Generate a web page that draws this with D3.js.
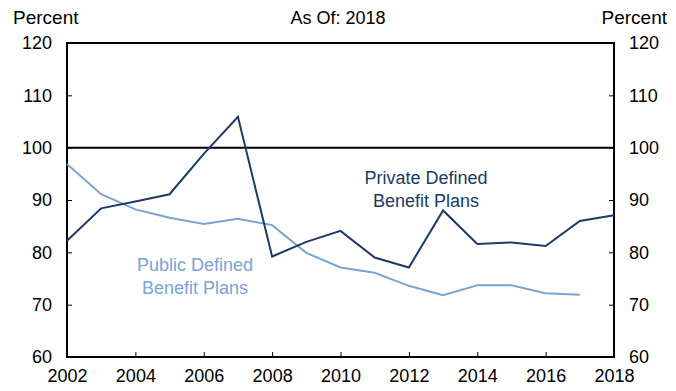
<!DOCTYPE html>
<html>
<head>
<meta charset="utf-8">
<script src="https://cdn.jsdelivr.net/npm/d3@7"></script>
<style>
  body { margin: 0; background: #fff; }
  svg text { font-family: "Liberation Sans", Arial, sans-serif; fill: #000; }
</style>
</head>
<body>
<div id="chart"></div>
<script>
// data
let years = [2002, 2003, 2004, 2005, 2006, 2007, 2008, 2009, 2010, 2011, 2012, 2013, 2014, 2015, 2016, 2017, 2018];
let privatePlans = [82.2, 88.4, 89.7, 91.1, 98.8, 105.9, 79.2, 82.0, 84.1, 79.0, 77.1, 88.0, 81.6, 81.9, 81.2, 86.0, 87.1];
let publicPlans = [96.9, 91.1, 88.2, 86.6, 85.4, 86.4, 85.2, 79.9, 77.1, 76.1, 73.6, 71.8, 73.7, 73.7, 72.2, 71.9];
let yTicks = [60, 70, 80, 90, 100, 110, 120];
let xTicks = [2002, 2004, 2006, 2008, 2010, 2012, 2014, 2016, 2018];

let margin = {top: 43, right: 62, bottom: 34, left: 67};
let W = 676, H = 391;
let width = W - margin.left - margin.right;
let height = H - margin.top - margin.bottom;
let fs = "18px";

let svg = d3.select("#chart")
    .append("svg")
    .attr("width", W)
    .attr("height", H);

let g = svg.append("g")
    .attr("transform", "translate(" + margin.left + "," + margin.top + ")");

let x = d3.scaleLinear().domain([2002, 2018]).range([0, width]);
let y = d3.scaleLinear().domain([60, 120]).range([height, 0]);

// axes, ticks pointing into the plot
let tickLen = 5;
let leftAxis = g.append("g").call(d3.axisLeft(y).tickValues(yTicks).tickSize(-tickLen).tickPadding(15));
let rightAxis = g.append("g").attr("transform", "translate(" + width + ",0)")
    .call(d3.axisRight(y).tickValues(yTicks).tickSize(-tickLen).tickPadding(15));
let bottomAxis = g.append("g").attr("transform", "translate(0," + height + ")")
    .call(d3.axisBottom(x).tickValues(xTicks).tickFormat(d3.format("d")).tickSize(-tickLen).tickPadding(12));

[leftAxis, rightAxis, bottomAxis].forEach(function (a) {
    a.select(".domain").remove();
    a.selectAll("line").attr("stroke", "#000").attr("stroke-width", 1);
    a.selectAll("text").style("font-size", fs);
});

// frame
g.append("rect")
    .attr("x", 0).attr("y", 0)
    .attr("width", width).attr("height", height)
    .attr("fill", "none")
    .attr("stroke", "#000")
    .attr("stroke-width", 2);

// 100 reference line
g.append("line")
    .attr("x1", 0).attr("x2", width)
    .attr("y1", y(100)).attr("y2", y(100))
    .attr("stroke", "#000")
    .attr("stroke-width", 2);

let line = d3.line()
    .x(function (d, i) { return x(years[i]); })
    .y(function (d) { return y(d); });

g.append("path")
    .datum(publicPlans)
    .attr("d", line)
    .attr("fill", "none")
    .attr("stroke", "#7aa3d6")
    .attr("stroke-width", 2);

g.append("path")
    .datum(privatePlans)
    .attr("d", line)
    .attr("fill", "none")
    .attr("stroke", "#1c3a63")
    .attr("stroke-width", 2);

// labels
function label(lines, cx, cy, color) {
    let t = svg.append("text")
        .attr("text-anchor", "middle")
        .style("font-size", fs)
        .style("fill", color);
    lines.forEach(function (s, i) {
        t.append("tspan").attr("x", cx).attr("y", cy + i * 23).text(s);
    });
}
label(["Private Defined", "Benefit Plans"], 426, 184, "#1c3a63");
label(["Public Defined", "Benefit Plans"], 195, 271, "#7aa3d6");

svg.append("text").attr("x", 13).attr("y", 24).style("font-size", "19px").text("Percent");
svg.append("text").attr("x", 667).attr("y", 24).attr("text-anchor", "end").style("font-size", "19px").text("Percent");
svg.append("text").attr("x", 338).attr("y", 24).attr("text-anchor", "middle").style("font-size", fs).text("As Of: 2018");
</script>
</body>
</html>
